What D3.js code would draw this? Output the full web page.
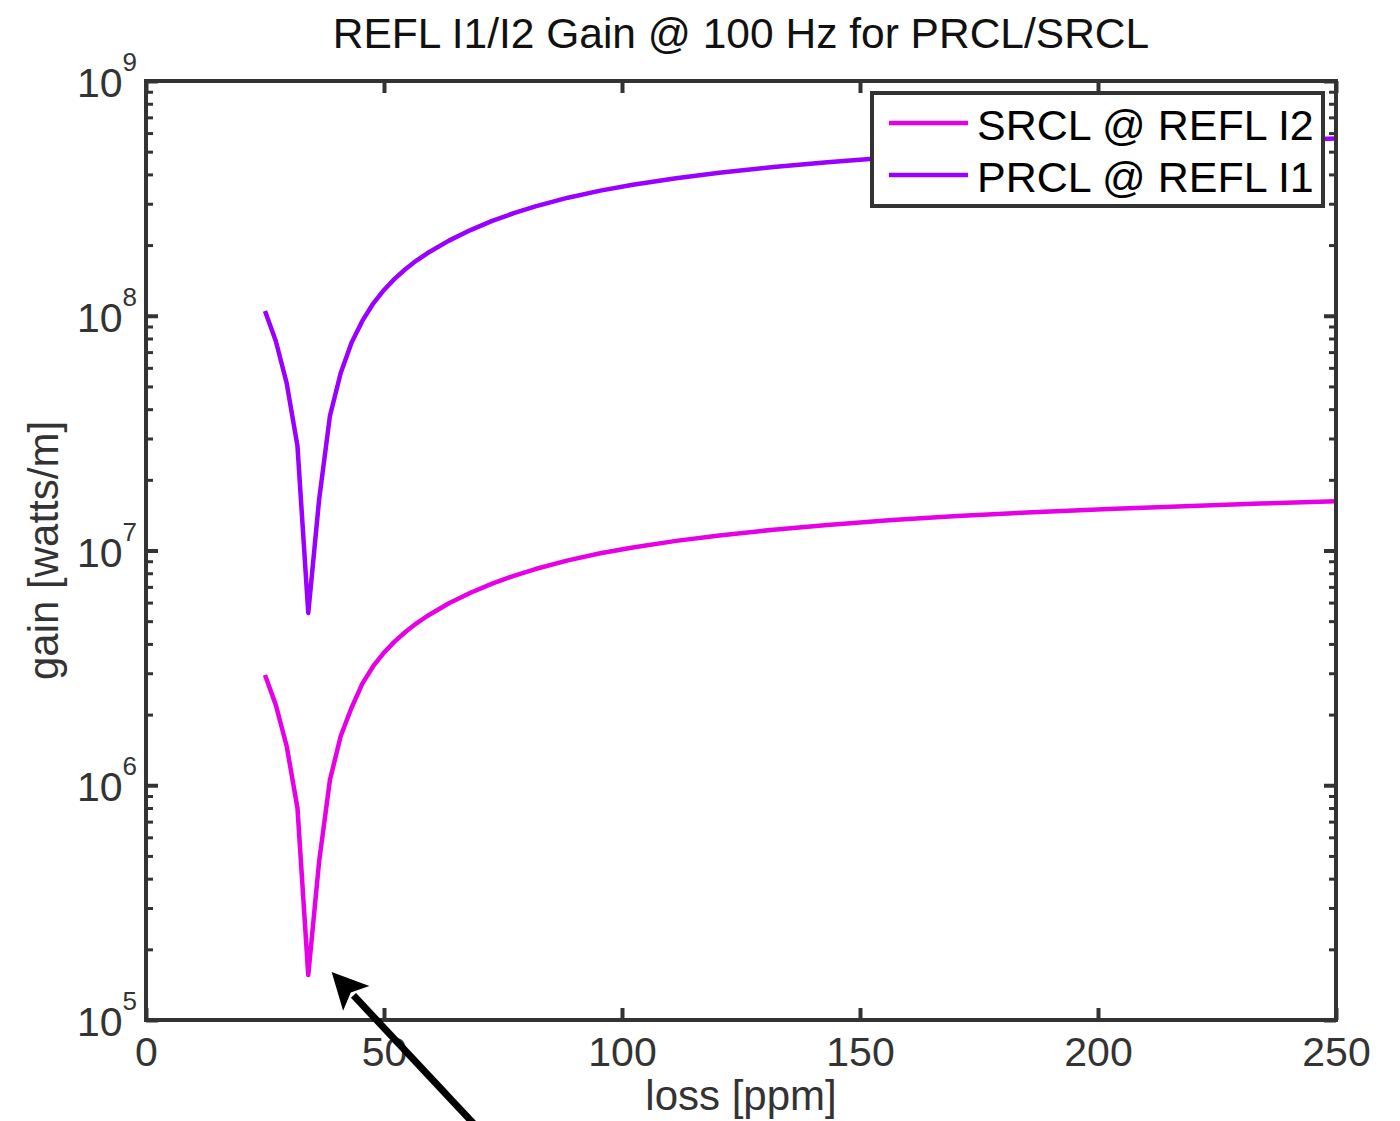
<!DOCTYPE html>
<html>
<head>
<meta charset="utf-8">
<script src="https://cdn.jsdelivr.net/npm/d3@7"></script>
<style>
	body { margin: 0; background: #fff; }
	svg text { font-family: "Liberation Sans", Arial, Helvetica, sans-serif; }
</style>
</head>
<body>
<svg id="chart" width="1400" height="1121"></svg>
<script>
// loss [ppm] sample points
var loss = [25, 27.27, 29.55, 31.82, 34.09, 36.36, 38.64, 40.91, 43.18, 45.45,
	47.73, 50, 52.27, 54.55, 56.82, 59.09, 63.64, 68.18, 72.73, 77.27,
	81.82, 88.64, 95.45, 102.27, 111.36, 120.45, 131.82, 143.18, 156.82, 170.45,
	186.36, 202.27, 218.18, 234.09, 250];

// gain [watts/m]
var srcl = [2.95e6, 2.20e6, 1.47e6, 8.0e5, 1.555e5, 4.71e5, 1.053e6, 1.62e6, 2.138e6, 2.71e6,
	3.214e6, 3.673e6, 4.102e6, 4.508e6, 4.898e6, 5.26e6, 5.957e6, 6.607e6, 7.228e6, 7.798e6,
	8.337e6, 9.078e6, 9.727e6, 1.030e7, 1.099e7, 1.159e7, 1.227e7, 1.285e7, 1.349e7, 1.403e7,
	1.455e7, 1.503e7, 1.545e7, 1.585e7, 1.622e7];
var prcl = [1.048e8, 7.81e7, 5.17e7, 2.79e7, 5.42e6, 1.64e7, 3.74e7, 5.70e7, 7.674e7, 9.506e7,
	1.127e8, 1.288e8, 1.439e8, 1.581e8, 1.718e8, 1.845e8, 2.089e8, 2.317e8, 2.535e8, 2.735e8,
	2.924e8, 3.184e8, 3.412e8, 3.614e8, 3.855e8, 4.064e8, 4.305e8, 4.508e8, 4.732e8, 4.92e8,
	5.105e8, 5.272e8, 5.42e8, 5.559e8, 5.689e8];

var seriesNames = ['SRCL @ REFL I2', 'PRCL @ REFL I1'];
var seriesColors = ['#e600e6', '#9900ff'];
var xTicks = [0, 50, 100, 150, 200, 250];
var yExponents = [5, 6, 7, 8, 9];
var minorMult = [2, 3, 4, 5, 6, 7, 8, 9];
// annotation arrow (tail, tip) in data units
var arrowTail = [69.1, 3.57e4];
var arrowTip = [39.0, 1.6e5];

var svg = d3.select('#chart'),
	margin = {top: 81, right: 64, bottom: 101, left: 146},
	width = 1400 - margin.left - margin.right,
	height = 1121 - margin.top - margin.bottom,
	g = svg.append('g').attr('transform', 'translate(' + margin.left + ',' + margin.top + ')');

var x = d3.scaleLinear().domain([0, 250]).range([0, width]);
var y = d3.scaleLog().domain([1e5, 1e9]).range([height, 0]);

var majorY = yExponents.map(function(e) { return Math.pow(10, e); });
var minorY = [];
yExponents.slice(0, -1).forEach(function(e) {
	minorMult.forEach(function(m) { minorY.push(m * Math.pow(10, e)); });
});

var axisColor = '#333';

function styleAxis(sel, w) {
	sel.select('.domain').remove();
	sel.selectAll('.tick line').attr('stroke', axisColor).attr('stroke-width', w);
}

// minor y ticks, left and right
g.append('g')
	.call(d3.axisLeft(y).tickValues(minorY).tickSize(-7).tickFormat(''))
	.call(styleAxis, 3);
g.append('g')
	.attr('transform', 'translate(' + width + ',0)')
	.call(d3.axisRight(y).tickValues(minorY).tickSize(-7).tickFormat(''))
	.call(styleAxis, 3);

// major y ticks with 10^n labels
var yAxis = g.append('g')
	.call(d3.axisLeft(y).tickValues(majorY).tickSize(-12).tickPadding(9).tickFormat(''))
	.call(styleAxis, 4);
yAxis.selectAll('.tick text')
	.attr('fill', axisColor)
	.attr('font-size', 41)
	.attr('dy', '15.5')
	.each(function(d) {
		var t = d3.select(this);
		t.text('10');
		t.append('tspan')
			.attr('font-size', 26)
			.attr('dy', -26)
			.text(Math.round(Math.log10(d)));
	});
g.append('g')
	.attr('transform', 'translate(' + width + ',0)')
	.call(d3.axisRight(y).tickValues(majorY).tickSize(-12).tickFormat(''))
	.call(styleAxis, 4);

// x ticks, bottom and top
var xAxis = g.append('g')
	.attr('transform', 'translate(0,' + height + ')')
	.call(d3.axisBottom(x).tickValues(xTicks).tickSize(-12).tickPadding(17).tickFormat(d3.format('d')))
	.call(styleAxis, 4);
xAxis.selectAll('.tick text')
	.attr('fill', axisColor)
	.attr('font-size', 41);
g.append('g')
	.call(d3.axisTop(x).tickValues(xTicks).tickSize(-12).tickFormat(''))
	.call(styleAxis, 4);

// curves
var line = d3.line()
	.x(function(d) { return x(d[0]); })
	.y(function(d) { return y(d[1]); });

[srcl, prcl].forEach(function(s, i) {
	g.append('path')
		.datum(loss.map(function(l, j) { return [l, s[j]]; }))
		.attr('fill', 'none')
		.attr('stroke', seriesColors[i])
		.attr('stroke-width', 4.5)
		.attr('stroke-linejoin', 'round')
		.attr('d', line);
});

// axes box
g.append('rect')
	.attr('width', width)
	.attr('height', height)
	.attr('fill', 'none')
	.attr('stroke', axisColor)
	.attr('stroke-width', 4);

// legend
var lg = g.append('g').attr('transform', 'translate(' + (872 - margin.left) + ',' + (93 - margin.top) + ')');
lg.append('rect')
	.attr('width', 451)
	.attr('height', 113)
	.attr('fill', '#fff')
	.attr('stroke', axisColor)
	.attr('stroke-width', 4);
seriesNames.forEach(function(name, i) {
	var yy = 30 + i * 52;
	lg.append('line')
		.attr('x1', 17).attr('x2', 96)
		.attr('y1', yy).attr('y2', yy)
		.attr('stroke', seriesColors[i])
		.attr('stroke-width', 4.5);
	lg.append('text')
		.attr('x', 105)
		.attr('y', yy + 17)
		.attr('font-size', 43)
		.attr('fill', '#000')
		.text(name);
});

// title and axis labels
svg.append('text')
	.attr('x', margin.left + width / 2)
	.attr('y', 48)
	.attr('text-anchor', 'middle')
	.attr('font-size', 42.5)
	.attr('fill', '#111')
	.text('REFL I1/I2 Gain @ 100 Hz for PRCL/SRCL');
svg.append('text')
	.attr('x', margin.left + width / 2)
	.attr('y', 1110)
	.attr('text-anchor', 'middle')
	.attr('font-size', 42)
	.attr('fill', axisColor)
	.text('loss [ppm]');
svg.append('text')
	.attr('transform', 'translate(58,' + (margin.top + height / 2) + ') rotate(-90)')
	.attr('text-anchor', 'middle')
	.attr('font-size', 42)
	.attr('fill', axisColor)
	.text('gain [watts/m]');

// arrow annotation
var ax0 = x(arrowTail[0]), ay0 = y(arrowTail[1]),
	ax1 = x(arrowTip[0]), ay1 = y(arrowTip[1]);
var ang = Math.atan2(ay1 - ay0, ax1 - ax0),
	headLen = 36, headHalf = 18;
var bx = ax1 - headLen * Math.cos(ang), by = ay1 - headLen * Math.sin(ang);
g.append('line')
	.attr('x1', ax0).attr('y1', ay0)
	.attr('x2', bx + 4 * Math.cos(ang)).attr('y2', by + 4 * Math.sin(ang))
	.attr('stroke', '#000')
	.attr('stroke-width', 7);
g.append('path')
	.attr('d', 'M' + ax1 + ',' + ay1 +
		'L' + (bx - headHalf * Math.sin(ang)) + ',' + (by + headHalf * Math.cos(ang)) +
		'L' + (bx + 8 * Math.cos(ang)) + ',' + (by + 8 * Math.sin(ang)) +
		'L' + (bx + headHalf * Math.sin(ang)) + ',' + (by - headHalf * Math.cos(ang)) + 'Z')
	.attr('fill', '#000');
</script>
</body>
</html>
